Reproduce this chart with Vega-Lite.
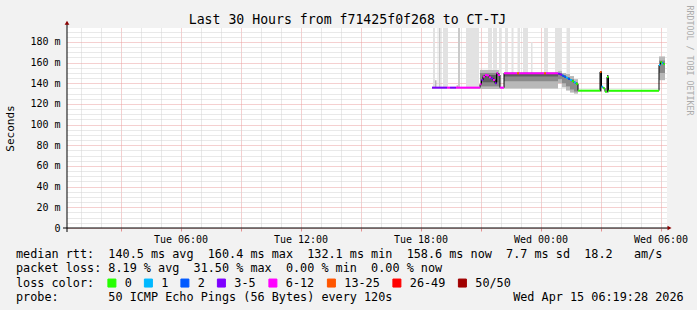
{
  "$schema": "https://vega.github.io/schema/vega-lite/v6.json",
  "width": 600,
  "height": 200,
  "autosize": {"type": "none"},
  "padding": {"left": 67, "top": 28, "right": 30, "bottom": 82},
  "background": "#f2f2f2",
  "title": {"text": "Last 30 Hours from f71425f0f268 to CT-TJ", "font": "DejaVu Sans Mono", "fontSize": 13.2, "fontWeight": "normal", "color": "#000000", "anchor": "middle", "frame": "group", "dx": -19.5, "offset": 0, "baseline": "alphabetic", "dy": 32},
  "config": {"view": {"fill": "white", "stroke": null}, "font": "DejaVu Sans Mono"},
  "datasets": {
    "median": [
      {"h0":18.575,"h1":19.325,"rtt":135.8,"loss":"3-5"},
      {"h0":19.325,"h1":19.475,"rtt":135.8,"loss":"6-12"},
      {"h0":19.475,"h1":19.775,"rtt":135.8,"loss":"3-5"},
      {"h0":19.775,"h1":20.975,"rtt":135.8,"loss":"6-12"},
      {"h0":20.975,"h1":21.05,"rtt":139.0,"loss":"6-12"},
      {"h0":21.05,"h1":21.125,"rtt":143.2,"loss":"3-5"},
      {"h0":21.125,"h1":21.225,"rtt":146.4,"loss":"6-12"},
      {"h0":21.225,"h1":21.325,"rtt":148.0,"loss":"6-12"},
      {"h0":21.325,"h1":21.425,"rtt":147.6,"loss":"6-12"},
      {"h0":21.425,"h1":21.525,"rtt":145.8,"loss":"6-12"},
      {"h0":21.525,"h1":21.625,"rtt":144.7,"loss":"3-5"},
      {"h0":21.625,"h1":21.725,"rtt":143.2,"loss":"6-12"},
      {"h0":21.725,"h1":21.8,"rtt":140.0,"loss":"3-5"},
      {"h0":21.8,"h1":21.875,"rtt":149.7,"loss":"6-12"},
      {"h0":21.875,"h1":21.975,"rtt":148.0,"loss":"6-12"},
      {"h0":21.975,"h1":22.175,"rtt":135.8,"loss":"6-12"},
      {"h0":22.175,"h1":22.825,"rtt":149.7,"loss":"6-12"},
      {"h0":22.825,"h1":22.925,"rtt":149.7,"loss":"13-25"},
      {"h0":22.925,"h1":24.175,"rtt":149.7,"loss":"6-12"},
      {"h0":24.175,"h1":24.275,"rtt":149.7,"loss":"13-25"},
      {"h0":24.275,"h1":24.875,"rtt":149.7,"loss":"6-12"},
      {"h0":24.875,"h1":24.975,"rtt":149.3,"loss":"3-5"},
      {"h0":24.975,"h1":25.075,"rtt":148.5,"loss":"3-5"},
      {"h0":25.075,"h1":25.175,"rtt":147.4,"loss":"2"},
      {"h0":25.175,"h1":25.275,"rtt":146.4,"loss":"2"},
      {"h0":25.275,"h1":25.375,"rtt":145.4,"loss":"1"},
      {"h0":25.375,"h1":25.475,"rtt":144.3,"loss":"2"},
      {"h0":25.475,"h1":25.575,"rtt":143.2,"loss":"1"},
      {"h0":25.575,"h1":25.675,"rtt":142.0,"loss":"0"},
      {"h0":25.675,"h1":25.775,"rtt":140.8,"loss":"1"},
      {"h0":25.775,"h1":25.875,"rtt":139.5,"loss":"0"},
      {"h0":25.875,"h1":26.975,"rtt":132.9,"loss":"0"},
      {"h0":26.975,"h1":27.05,"rtt":151.0,"loss":"13-25"},
      {"h0":27.05,"h1":27.125,"rtt":136.7,"loss":"1"},
      {"h0":27.125,"h1":27.225,"rtt":135.2,"loss":"0"},
      {"h0":27.225,"h1":27.325,"rtt":131.9,"loss":"0"},
      {"h0":27.325,"h1":27.4,"rtt":146.0,"loss":"0"},
      {"h0":27.4,"h1":29.925,"rtt":132.9,"loss":"0"},
      {"h0":29.925,"h1":30.0,"rtt":157.7,"loss":"1"},
      {"h0":30.0,"h1":30.075,"rtt":160.4,"loss":"0"},
      {"h0":30.075,"h1":30.15,"rtt":159.5,"loss":"1"},
      {"h0":30.15,"h1":30.225,"rtt":158.6,"loss":"0"}
    ],
    "smoke": [
      {"h0":18.625,"h1":18.725,"lo":136,"hi":193.5,"shade":"light"},
      {"h0":18.725,"h1":18.8,"lo":136,"hi":143,"shade":"mid"},
      {"h0":18.85,"h1":18.9,"lo":136,"hi":193.5,"shade":"light"},
      {"h0":18.925,"h1":19.0,"lo":136,"hi":193.5,"shade":"midlight"},
      {"h0":19.125,"h1":19.375,"lo":136,"hi":193.5,"shade":"light"},
      {"h0":19.8,"h1":19.875,"lo":136,"hi":138,"shade":"mid"},
      {"h0":19.875,"h1":19.975,"lo":136,"hi":193.5,"shade":"midlight"},
      {"h0":20.275,"h1":20.925,"lo":136,"hi":193.5,"shade":"light"},
      {"h0":20.975,"h1":21.975,"lo":134.5,"hi":153,"shade":"mid"},
      {"h0":20.975,"h1":21.975,"lo":137,"hi":150,"shade":"dark"},
      {"h0":21.1,"h1":21.9,"lo":141,"hi":148,"shade":"darker"},
      {"h0":21.375,"h1":21.575,"lo":153,"hi":193.5,"shade":"light"},
      {"h0":21.625,"h1":21.825,"lo":153,"hi":193.5,"shade":"light"},
      {"h0":21.925,"h1":22.025,"lo":150,"hi":193.5,"shade":"light"},
      {"h0":22.225,"h1":22.375,"lo":150,"hi":193.5,"shade":"light"},
      {"h0":22.175,"h1":24.875,"lo":135,"hi":149.7,"shade":"mid"},
      {"h0":22.175,"h1":24.875,"lo":142,"hi":149.7,"shade":"dark"},
      {"h0":22.175,"h1":24.875,"lo":146.5,"hi":149.7,"shade":"darker"},
      {"h0":22.55,"h1":22.65,"lo":149.7,"hi":193.5,"shade":"light"},
      {"h0":22.85,"h1":22.975,"lo":149.7,"hi":193.5,"shade":"light"},
      {"h0":23.125,"h1":23.375,"lo":149.7,"hi":193.5,"shade":"light"},
      {"h0":23.525,"h1":23.6,"lo":149.7,"hi":180,"shade":"light"},
      {"h0":24.175,"h1":24.375,"lo":149.7,"hi":193.5,"shade":"light"},
      {"h0":24.725,"h1":25.075,"lo":149.7,"hi":193.5,"shade":"light"},
      {"h0":25.3,"h1":25.475,"lo":146,"hi":193.5,"shade":"light"},
      {"h0":24.875,"h1":25.075,"lo":140,"hi":152,"shade":"mid"},
      {"h0":24.875,"h1":25.075,"lo":144,"hi":150,"shade":"dark"},
      {"h0":25.075,"h1":25.275,"lo":136,"hi":150,"shade":"mid"},
      {"h0":25.075,"h1":25.275,"lo":140,"hi":148,"shade":"dark"},
      {"h0":25.275,"h1":25.475,"lo":133,"hi":149,"shade":"mid"},
      {"h0":25.275,"h1":25.475,"lo":137,"hi":146,"shade":"dark"},
      {"h0":25.475,"h1":25.675,"lo":131,"hi":147,"shade":"mid"},
      {"h0":25.475,"h1":25.675,"lo":134,"hi":144,"shade":"dark"},
      {"h0":25.675,"h1":25.875,"lo":130,"hi":144,"shade":"mid"},
      {"h0":25.675,"h1":25.875,"lo":132,"hi":141,"shade":"dark"},
      {"h0":26.975,"h1":27.05,"lo":132,"hi":152,"shade":"black"},
      {"h0":27.325,"h1":27.4,"lo":131,"hi":148,"shade":"black"},
      {"h0":29.925,"h1":30.225,"lo":143,"hi":166,"shade":"mid"},
      {"h0":29.925,"h1":30.225,"lo":150,"hi":162,"shade":"dark"}
    ],
    "legendLines": [
      {"line":0,"text":"median rtt:\u00a0\u00a0140.5 ms avg\u00a0\u00a0160.4 ms max\u00a0\u00a0132.1 ms min\u00a0\u00a0158.6 ms now\u00a0\u00a07.7 ms sd\u00a0\u00a018.2\u00a0\u00a0\u00a0am/s"},
      {"line":1,"text":"packet loss: 8.19 % avg\u00a0\u00a031.50 % max\u00a0\u00a00.00 % min\u00a0\u00a00.00 % now"},
      {"line":3,"text":"probe:\u00a0\u00a0\u00a0\u00a0\u00a0\u00a0\u00a050 ICMP Echo Pings (56 Bytes) every 120s\u00a0\u00a0\u00a0\u00a0\u00a0\u00a0\u00a0\u00a0\u00a0\u00a0\u00a0\u00a0\u00a0\u00a0\u00a0\u00a0\u00a0Wed Apr 15 06:19:28 2026"}
    ]
  },
  "layer": [
    {
      "layer": [
        {
          "data": {"name": "smoke"},
          "mark": {"type": "rect"},
          "encoding": {
            "x": {"field": "h0", "type": "quantitative", "scale": {"domain": [0.32444, 30.32444], "nice": false, "zero": false},
              "axis": {
                "title": null, "domain": false,
                "values": [1,2,3,4,5,6,7,8,9,10,11,12,13,14,15,16,17,18,19,20,21,22,23,24,25,26,27,28,29,30],
                "grid": true, "gridDash": [1, 1], "gridWidth": 1,
                "gridColor": {"condition": {"test": "datum.value % 3 === 0", "value": "#eba0a0"}, "value": "#d2d2d2"},
                "ticks": true, "tickSize": 3,
                "tickColor": {"condition": {"test": "datum.value % 3 === 0", "value": "#e59090"}, "value": "transparent"},
                "labelExpr": "datum.value % 6 === 0 ? (datum.value < 24 ? 'Tue ' : 'Wed ') + (datum.value % 24 < 10 ? '0' : '') + (datum.value % 24) + ':00' : ''",
                "labelFont": "DejaVu Sans Mono", "labelFontSize": 10, "labelColor": "#000000", "labelPadding": 3, "labelOverlap": false, "labelFlush": false
              }
            },
            "x2": {"field": "h1"},
            "y": {"field": "lo", "type": "quantitative", "scale": {"domain": [0, 193.5], "nice": false, "zero": false},
              "axis": {
                "title": "Seconds", "titleFont": "DejaVu Sans Mono", "titleFontSize": 11, "titleFontWeight": "normal", "titleColor": "#000000",
                "titleX": -57, "titleY": 100, "titleAngle": 270, "titleAlign": "center", "titleBaseline": "middle",
                "domain": false, "ticks": false,
                "values": [0,5,10,15,20,25,30,35,40,45,50,55,60,65,70,75,80,85,90,95,100,105,110,115,120,125,130,135,140,145,150,155,160,165,170,175,180,185,190],
                "grid": true, "gridDash": [1, 1], "gridWidth": 1,
                "gridColor": {"condition": {"test": "datum.value % 20 === 0", "value": "#eba0a0"}, "value": "#d2d2d2"},
                "labelExpr": "datum.value % 20 === 0 ? (datum.value === 0 ? '0' : datum.value + ' m') : ''",
                "labelFont": "DejaVu Sans Mono", "labelFontSize": 10, "labelColor": "#000000", "labelPadding": 7, "labelOverlap": false
              }
            },
            "y2": {"field": "hi"},
            "fill": {"field": "shade", "type": "nominal", "legend": null,
              "scale": {"domain": ["light", "midlight", "mid", "dark", "darker", "black"], "range": ["#e2e2e2", "#cacaca", "#b8b8b8", "#8a8a8a", "#5e5e5e", "#3a3a3a"]}}
          }
        },
        {
          "data": {"name": "median"},
          "mark": {"type": "line", "interpolate": "step-after", "color": "#000000", "strokeWidth": 1},
          "encoding": {
            "x": {"field": "h0", "type": "quantitative", "scale": {"domain": [0.32444, 30.32444], "nice": false, "zero": false}, "axis": null},
            "y": {"field": "rtt", "type": "quantitative", "scale": {"domain": [0, 193.5], "nice": false, "zero": false}, "axis": null}
          }
        },
        {
          "data": {"name": "median"},
          "mark": {"type": "rule", "strokeWidth": 2},
          "encoding": {
            "x": {"field": "h0", "type": "quantitative", "scale": {"domain": [0.32444, 30.32444], "nice": false, "zero": false}, "axis": null},
            "x2": {"field": "h1"},
            "y": {"field": "rtt", "type": "quantitative", "scale": {"domain": [0, 193.5], "nice": false, "zero": false}, "axis": null},
            "color": {"field": "loss", "type": "nominal",
              "scale": {"domain": ["0", "1", "2", "3-5", "6-12", "13-25", "26-49", "50/50"], "range": ["#26ff00", "#00b8ff", "#0059ff", "#7e00ff", "#ff00ff", "#ff5500", "#ff0000", "#a10000"]},
              "legend": {
                "orient": "none", "legendX": -51, "legendY": 249, "direction": "horizontal",
                "title": "loss color:", "titleOrient": "left", "titleFont": "DejaVu Sans Mono", "titleFontSize": 11.8, "titleFontWeight": "normal", "titleColor": "#000000", "titlePadding": 11,
                "labelFont": "DejaVu Sans Mono", "labelFontSize": 11.8, "labelColor": "#000000", "labelOffset": 7,
                "symbolType": "square", "symbolSize": 64, "symbolStrokeColor": "#000000", "symbolStrokeWidth": 1,
                "columnPadding": 9.5, "padding": 0,
                "encode": {"symbols": {"update": {"fill": {"scale": "color", "field": "value"}, "fillOpacity": {"value": 1}, "stroke": {"value": "#000000"}, "strokeWidth": {"value": 1}, "opacity": {"value": 1}}}}
              }
            }
          }
        },
        {
          "data": {"values": [{}]},
          "mark": {"type": "rule", "color": "#000000", "strokeWidth": 1},
          "encoding": {
            "x": {"datum": 0.125, "type": "quantitative", "scale": {"domain": [0.32444, 30.32444], "nice": false, "zero": false}, "axis": null},
            "x2": {"datum": 30.45},
            "y": {"datum": 0, "type": "quantitative", "scale": {"domain": [0, 193.5], "nice": false, "zero": false}, "axis": null}
          }
        },
        {
          "data": {"values": [{}]},
          "mark": {"type": "rule", "color": "#000000", "strokeWidth": 1},
          "encoding": {
            "x": {"datum": 0.32444, "type": "quantitative", "scale": {"domain": [0.32444, 30.32444], "nice": false, "zero": false}, "axis": null},
            "y": {"datum": -3.9, "type": "quantitative", "scale": {"domain": [0, 193.5], "nice": false, "zero": false}, "axis": null},
            "y2": {"datum": 198}
          }
        },
        {
          "data": {"values": [{}]},
          "mark": {"type": "point", "filled": true, "shape": "triangle-right", "size": 22, "color": "#8b0000", "opacity": 1},
          "encoding": {
            "x": {"datum": 30.45, "type": "quantitative", "scale": {"domain": [0.32444, 30.32444], "nice": false, "zero": false}, "axis": null},
            "y": {"datum": 0, "type": "quantitative", "scale": {"domain": [0, 193.5], "nice": false, "zero": false}, "axis": null}
          }
        },
        {
          "data": {"values": [{}]},
          "mark": {"type": "point", "filled": true, "shape": "triangle-up", "size": 22, "color": "#8b0000", "opacity": 1},
          "encoding": {
            "x": {"datum": 0.32444, "type": "quantitative", "scale": {"domain": [0.32444, 30.32444], "nice": false, "zero": false}, "axis": null},
            "y": {"datum": 198.5, "type": "quantitative", "scale": {"domain": [0, 193.5], "nice": false, "zero": false}, "axis": null}
          }
        }
      ],
      "resolve": {"axis": {"x": "independent", "y": "independent"}}
    },
    {
      "data": {"name": "legendLines"},
      "mark": {"type": "text", "align": "left", "baseline": "alphabetic", "font": "DejaVu Sans Mono", "fontSize": 11.8, "color": "#000000"},
      "encoding": {
        "x": {"value": -51},
        "y": {"field": "line", "type": "ordinal",
          "scale": {"type": "point", "domain": [0, 1, 2, 3], "range": [230.3, 272.6], "padding": 0},
          "axis": {"orient": "right", "title": "RRDTOOL / TOBI OETIKER", "titleAngle": 90, "titleX": 21, "titleY": 32,
            "titleFont": "DejaVu Sans Mono", "titleFontSize": 8.3, "titleFontWeight": "normal", "titleColor": "#ababab",
            "titleAlign": "center", "titleBaseline": "middle",
            "labels": false, "ticks": false, "domain": false, "grid": false}
        },
        "text": {"field": "text"}
      }
    }
  ],
  "resolve": {"scale": {"y": "independent"}, "axis": {"y": "independent"}}
}
